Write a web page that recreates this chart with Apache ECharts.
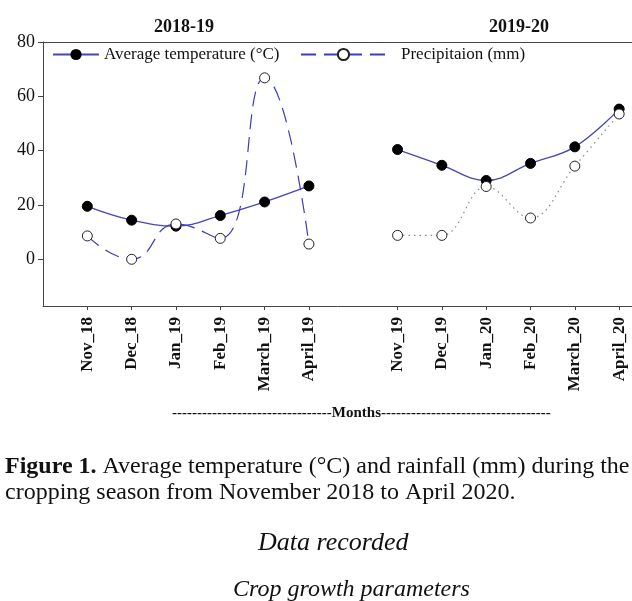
<!DOCTYPE html>
<html>
<head>
<meta charset="utf-8">
<script src="https://cdn.jsdelivr.net/npm/echarts@6/dist/echarts.min.js"></script>
<style>
html,body{margin:0;padding:0;background:#fff;}
#chart{width:632px;height:601px;}
</style>
</head>
<body>
<div id="chart"></div>
<script>
// Data
var months1 = ['Nov_18', 'Dec_18', 'Jan_19', 'Feb_19', 'March_19', 'April_19'];
var months2 = ['Nov_19', 'Dec_19', 'Jan_20', 'Feb_20', 'March_20', 'April_20'];
var temp1 = [19.5, 14.4, 12.2, 16.1, 21.1, 27.0];
var precip1 = [8.6, 0.0, 13.0, 7.7, 66.8, 5.6];
var temp2 = [40.4, 34.6, 29.0, 35.3, 41.4, 55.3];
var precip2 = [8.8, 8.8, 26.8, 15.2, 34.3, 53.5];
var yTicks = [0, 20, 40, 60, 80];
var seasonTitles = ['2018-19', '2019-20'];

// category positions on a shared value axis (gap of one slot between seasons)
var pos1 = months1.map(function (m, i) { return i + 1; });
var pos2 = months2.map(function (m, i) { return i + 1 + months1.length + 1; });
var labelMap = {};
pos1.forEach(function (p, i) { labelMap[p] = months1[i]; });
pos2.forEach(function (p, i) { labelMap[p] = months2[i]; });
function pairs(xs, ys) { return xs.map(function (x, i) { return [x, ys[i]]; }); }

var FONT = '"Liberation Serif", "Times New Roman", serif';
var TEMP_NAME = 'Average temperature (°C)';
var PREC_NAME = 'Precipitaion (mm)';
var lineBlue = '#4646b4';

var chart = echarts.init(document.getElementById('chart'));
chart.setOption({
  backgroundColor: '#fff',
  animation: false,
  title: [
    { text: seasonTitles[0], left: 179, top: 13, textAlign: 'center',
      textStyle: { fontFamily: FONT, fontSize: 18, fontWeight: 'bold', color: '#111' } },
    { text: seasonTitles[1], left: 514, top: 13, textAlign: 'center',
      textStyle: { fontFamily: FONT, fontSize: 18, fontWeight: 'bold', color: '#111' } }
  ],
  legend: [
    { data: [TEMP_NAME], left: 47, top: 41, itemWidth: 46, itemHeight: 14,
      textStyle: { fontFamily: FONT, fontSize: 17, color: '#111' } },
    { data: [PREC_NAME], left: 295, top: 41, itemWidth: 85, itemHeight: 14,
      textStyle: { fontFamily: FONT, fontSize: 17, color: '#111', padding: [0, 0, 0, 10] } }
  ],
  grid: { left: 43, right: 0, top: 42, bottom: 295, containLabel: false },
  xAxis: [
    {
      type: 'value', position: 'bottom', min: 0, max: 13.29,
      axisLine: { show: true, onZero: false, lineStyle: { color: '#444', width: 1 } },
      axisTick: { show: true, length: 4, customValues: pos1.concat(pos2), lineStyle: { color: '#444' } },
      axisLabel: {
        customValues: pos1.concat(pos2), rotate: 90, margin: 11,
        fontFamily: FONT, fontSize: 17, fontWeight: 'bold', color: '#111',
        formatter: function (v) { return labelMap[v] || ''; }
      },
      splitLine: { show: false }
    },
    {
      type: 'value', position: 'top', min: 0, max: 13.29,
      axisLine: { show: true, onZero: false, lineStyle: { color: '#444', width: 1 } },
      axisTick: { show: false }, axisLabel: { show: false }, splitLine: { show: false }
    }
  ],
  yAxis: {
    type: 'value', min: -17.2, max: 80,
    axisLine: { show: true, onZero: false, lineStyle: { color: '#444', width: 1 } },
    axisTick: { show: true, length: 5, customValues: yTicks, lineStyle: { color: '#444' } },
    axisLabel: { customValues: yTicks, margin: 8, fontFamily: FONT, fontSize: 18, color: '#111' },
    splitLine: { show: false }
  },
  series: [
    {
      name: TEMP_NAME, type: 'line', smooth: 0.4, data: pairs(pos1, temp1),
      symbol: 'circle', symbolSize: 10,
      itemStyle: { color: '#000', borderColor: '#000' },
      lineStyle: { color: lineBlue, width: 1.3 }, z: 3
    },
    {
      name: PREC_NAME, type: 'line', smooth: 0.5, data: pairs(pos1, precip1),
      symbol: 'circle', symbolSize: 10,
      itemStyle: { color: '#fff', borderColor: '#222', borderWidth: 1 },
      lineStyle: { color: '#3c3cc0', width: 1.2, type: [15, 8] }, z: 4
    },
    {
      name: TEMP_NAME, type: 'line', smooth: 0.4, data: pairs(pos2, temp2),
      symbol: 'circle', symbolSize: 10,
      itemStyle: { color: '#000', borderColor: '#000' },
      lineStyle: { color: lineBlue, width: 1.3 }, z: 3
    },
    {
      name: PREC_NAME, type: 'line', smooth: 0.4, data: pairs(pos2, precip2),
      symbol: 'circle', symbolSize: 10,
      itemStyle: { color: '#fff', borderColor: '#222', borderWidth: 1 },
      lineStyle: { color: '#8a8a8a', width: 1.2, type: [1.5, 4] }, z: 4
    }
  ],
  graphic: [
    { type: 'text', left: 172, top: 406,
      style: { text: '--------------------------------Months----------------------------------',
        font: 'bold 15px ' + FONT, fill: '#111' } },
    { type: 'text', left: 5, top: 454,
      style: { text: '{b|Figure 1.} Average temperature (°C) and rainfall (mm) during the\ncropping season from November 2018 to April 2020.',
        font: '24px ' + FONT, fill: '#111', lineHeight: 26,
        rich: { b: { font: 'bold 24px ' + FONT, fill: '#111' } } } },
    { type: 'text', left: 258, top: 530,
      style: { text: 'Data recorded', font: 'italic 26px ' + FONT, fill: '#111' } },
    { type: 'text', left: 233, top: 578,
      style: { text: 'Crop growth parameters', font: 'italic 24px ' + FONT, fill: '#111' } }
  ]
});
</script>
</body>
</html>
